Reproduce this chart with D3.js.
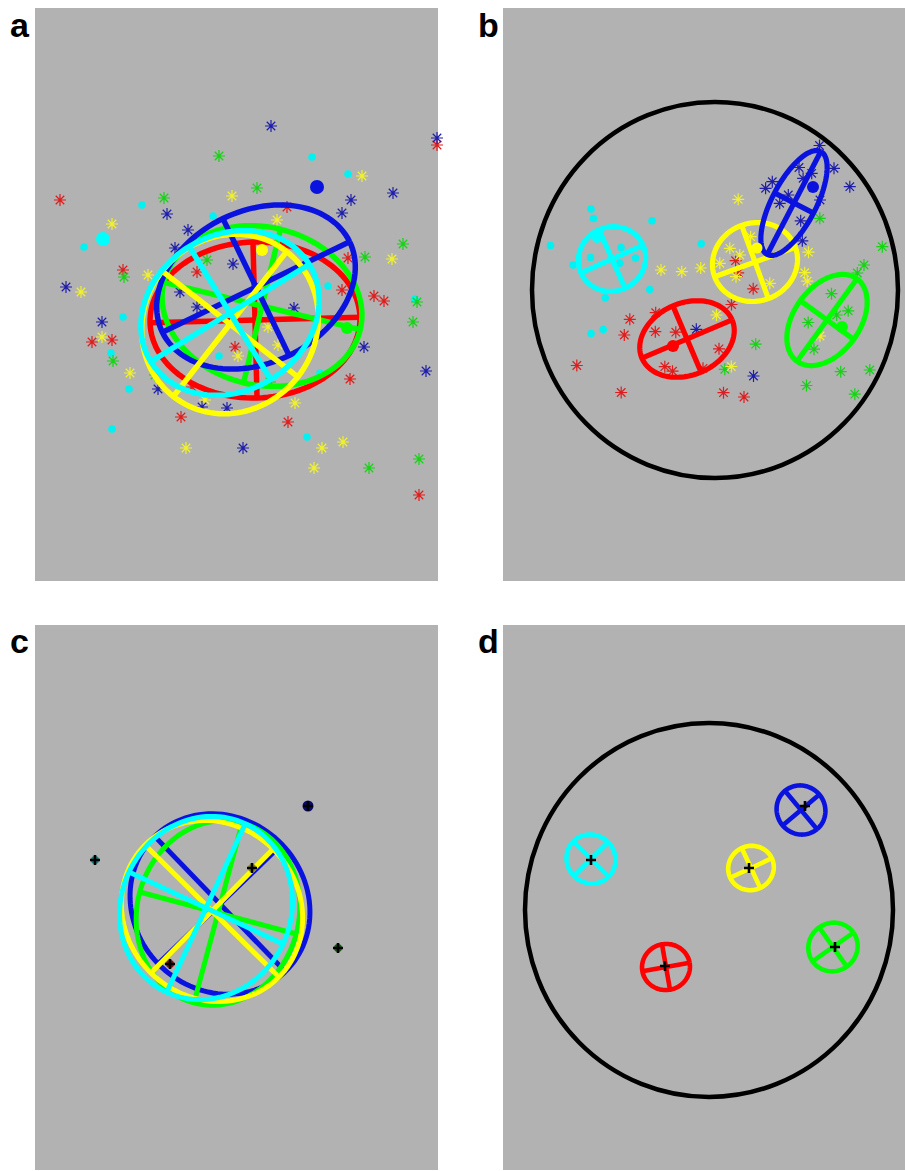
<!DOCTYPE html>
<html>
<head>
<meta charset="utf-8">
<script src="https://cdn.jsdelivr.net/npm/d3@7"></script>
<style>
  body { margin: 0; background: #ffffff; }
  svg { display: block; }
</style>
</head>
<body>
<svg id="fig" width="905" height="1171"></svg>
<script>
// ---------------- data (panel-local field units) ----------------
// Fitted clusters: centre, semi-axes a/b, orientation of a (degrees, clockwise)
const ellipsesA = [
  { k: "red",    cx: 220, cy: 312, a: 105, b: 78, angle: -1.5 },
  { k: "green",  cx: 227, cy: 298, a: 101, b: 79, angle: 13.5 },
  { k: "blue",   cx: 221, cy: 279, a: 104, b: 76, angle: -25.8 },
  { k: "yellow", cx: 195, cy: 316, a: 92,  b: 86, angle: -52 },
  { k: "cyan",   cx: 195, cy: 305, a: 93,  b: 78, angle: -31.5 }
];
const ellipsesB = [
  { k: "cyan",   cx: 109, cy: 251, a: 34, b: 32, angle: -24 },
  { k: "red",    cx: 184, cy: 331, a: 49, b: 36, angle: -23 },
  { k: "yellow", cx: 252, cy: 254, a: 43, b: 39, angle: -20 },
  { k: "green",  cx: 324, cy: 312, a: 51, b: 33, angle: -54 },
  { k: "blue",   cx: 291, cy: 195, a: 58, b: 22, angle: -62.5 }
];
const ellipsesC = [
  { k: "blue",   cx: 185, cy: 279, a: 94, b: 86, angle: 46 },
  { k: "green",  cx: 183, cy: 288, a: 93, b: 81, angle: 105 },
  { k: "yellow", cx: 177, cy: 286, a: 94, b: 87, angle: 44.6 },
  { k: "cyan",   cx: 171, cy: 283, a: 93, b: 85, angle: 115 }
];
const ellipsesD = [
  { k: "cyan",   cx: 88,  cy: 234, a: 25, b: 24, angle: 45 },
  { k: "yellow", cx: 248, cy: 243, a: 23, b: 22, angle: -25 },
  { k: "blue",   cx: 298, cy: 185, a: 25, b: 24, angle: 50 },
  { k: "green",  cx: 330, cy: 322, a: 25, b: 24, angle: -35 },
  { k: "red",    cx: 163, cy: 342, a: 24, b: 23, angle: -10 }
];

// Cluster means shown as filled dots
const meansA = [
  { k: "blue",   x: 282, y: 179, r: 7 },
  { k: "cyan",   x: 68,  y: 231, r: 7 },
  { k: "yellow", x: 227, y: 242, r: 6 },
  { k: "green",  x: 312, y: 320, r: 6 }
];
const meansB = [
  { k: "cyan",   x: 94,  y: 230, r: 5 },
  { k: "red",    x: 170, y: 338, r: 6 },
  { k: "yellow", x: 254, y: 240, r: 5.5 },
  { k: "blue",   x: 310, y: 179, r: 6 },
  { k: "green",  x: 339, y: 319, r: 6 }
];

// Source positions marked with crosses
const sourcesC = [
  { k: "cyan",   x: 60,  y: 235 },
  { k: "yellow", x: 217, y: 243 },
  { k: "blue",   x: 273, y: 181 },
  { k: "green",  x: 303, y: 323 },
  { k: "red",    x: 135, y: 339 }
];
const sourcesD = [
  { k: "cyan",   x: 88,  y: 235 },
  { k: "yellow", x: 246, y: 243 },
  { k: "blue",   x: 302, y: 181 },
  { k: "green",  x: 332, y: 322 },
  { k: "red",    x: 162, y: 341 }
];

// Boundary circle of the field (b, d)
const boundaryB = { cx: 212, cy: 282, rx: 183, ry: 188 };
const boundaryD = { cx: 206, cy: 285, rx: 184, ry: 187 };

// Individual samples, panel a
const redA = [[25,192],[88,262],[252,199],[313,250],[307,282],[339,288],[349,293],[402,137],[162,264],[57,334],[77,332],[146,409],[200,339],[253,414],[315,371],[384,487],[157,379]];
const blueA = [[236,118],[402,130],[358,185],[316,192],[307,205],[132,206],[153,222],[140,240],[31,279],[198,256],[145,284],[162,299],[259,300],[67,314],[123,381],[329,339],[391,363],[208,440],[192,400],[167,399]];
const greenA = [[184,148],[129,190],[222,180],[172,252],[89,269],[368,236],[330,249],[382,294],[378,314],[78,353],[120,367],[235,374],[334,460],[384,451]];
const yellowA = [[197,188],[327,168],[77,216],[242,212],[113,267],[46,284],[357,251],[67,329],[95,365],[233,319],[243,337],[203,348],[170,392],[260,395],[151,440],[287,440],[308,434],[279,460]];
const cyanA = [[277,149],[313,166],[107,197],[178,208],[49,239],[293,278],[88,309],[76,345],[184,348],[94,381],[77,421],[272,429],[285,365],[380,291]];

// Individual samples, panel b
const redB = [[152.7,304.7],[126.8,311.3],[121.3,327],[73.8,357.5],[118.2,384.5],[152.3,323.7],[172.8,324.2],[161.8,358.7],[169.5,363.2],[220.5,384.7],[241,389],[228.5,296.5],[216,340.8],[232.6,252.7],[235.2,264.8],[250.2,280.8],[200,360.3]];
const blueB = [[316.5,137.5],[331,160.3],[346.8,178.7],[262.6,180.3],[269.3,173.7],[296,159.5],[300.1,170.3],[308.7,165.3],[317,192],[285.3,187],[297.7,212.8],[299.3,232.8],[193.3,321.3],[250.5,368],[276.7,195.3]];
const greenB = [[316.8,210.3],[379.3,238.7],[361,257],[354.3,265],[328.5,285.7],[345.2,302.8],[305.2,314.5],[311,341.2],[252.7,336.2],[221.8,361.3],[337.7,363.7],[366.8,362],[303.5,377.5],[351.8,386.2],[333.7,307]];
const yellowB = [[158,262],[178.8,263.7],[197.7,260],[235.2,191.3],[301.7,264.7],[304.2,273.2],[305.5,244.2],[228.3,358.5],[213.5,307],[226.8,240.3],[236.8,247],[216.8,255.3],[266.8,275.3],[247.6,228.7],[233,268.7],[317,328]];
const cyanB = [[88,201],[90.5,210.5],[149,212.7],[47.5,237.5],[70,257],[146.8,281.5],[102.3,289.8],[88,325.5],[100.2,321.6],[198.2,235.8],[132.5,250],[118,239.5],[87.5,249.5],[116.7,255.3]];

const panelLabels = ["a", "b", "c", "d"];

// ---------------- styling ----------------
const lineColor = { red: "#ff0000", green: "#00ff00", blue: "#0a12e0", yellow: "#ffff00", cyan: "#00ffff" };
const starColor = { red: "#e01c1c", green: "#14d414", blue: "#1e1eaa", yellow: "#f2f22a", cyan: "#00f2f2" };
const dotColor  = { red: "#8a1010", green: "#106010", blue: "#0a0a70", yellow: "#8a8a10", cyan: "#108080" };
const panelFill = "#b2b2b2";

// ---------------- layout ----------------
const layout = [
  { x0: 35,  y0: 8,   w: 403, h: 573 },
  { x0: 503, y0: 8,   w: 402, h: 573 },
  { x0: 35,  y0: 625, w: 403, h: 545 },
  { x0: 503, y0: 625, w: 402, h: 545 }
];
const labelPos = [[10, 37], [478, 37], [10, 653], [478, 653]];

const svg = d3.select("#fig");

function makePanel(i) {
  const p = layout[i];
  const g = svg.append("g").attr("transform", `translate(${p.x0},${p.y0})`);
  g.append("rect").attr("width", p.w).attr("height", p.h).attr("fill", panelFill);
  const x = d3.scaleLinear().domain([0, p.w]).range([0, p.w]);
  const y = d3.scaleLinear().domain([0, p.h]).range([0, p.h]);
  return { g, x, y };
}

function drawBoundary(P, c) {
  P.g.append("ellipse")
    .attr("cx", P.x(c.cx)).attr("cy", P.y(c.cy))
    .attr("rx", P.x(c.rx) - P.x(0)).attr("ry", P.y(c.ry) - P.y(0))
    .attr("fill", "none").attr("stroke", "#000").attr("stroke-width", 4.5);
}

const starPath = (r) => {
  const d = r * Math.SQRT1_2;
  return `M${-r},0L${r},0M0,${-r}L0,${r}M${-d},${-d}L${d},${d}M${-d},${d}L${d},${-d}`;
};

function drawStars(P, pts, k) {
  if (k === "cyan") {
    P.g.append("g").selectAll("circle").data(pts).join("circle")
      .attr("cx", d => P.x(d[0])).attr("cy", d => P.y(d[1]))
      .attr("r", 3.8).attr("fill", starColor.cyan);
  } else {
    P.g.append("g").selectAll("path").data(pts).join("path")
      .attr("transform", d => `translate(${P.x(d[0])},${P.y(d[1])})`)
      .attr("d", starPath(6))
      .attr("fill", "none").attr("stroke", starColor[k]).attr("stroke-width", 1.2);
  }
}

function drawEllipses(P, list, sw) {
  const line = d3.line().x(d => P.x(d[0])).y(d => P.y(d[1]));
  const eg = P.g.append("g");
  list.forEach(e => {
    const t = e.angle * Math.PI / 180;
    const ux = Math.cos(t), uy = Math.sin(t);   // major direction
    const vx = -uy, vy = ux;                    // minor direction
    const pts = d3.range(0, 361, 3).map(deg => {
      const s = deg * Math.PI / 180;
      const ca = e.a * Math.cos(s), cb = e.b * Math.sin(s);
      return [e.cx + ca * ux + cb * vx, e.cy + ca * uy + cb * vy];
    });
    const col = lineColor[e.k];
    eg.append("path").attr("d", line(pts)).attr("fill", "none")
      .attr("stroke", col).attr("stroke-width", sw);
    eg.append("path").attr("d", line([[e.cx - e.a * ux, e.cy - e.a * uy], [e.cx + e.a * ux, e.cy + e.a * uy]]))
      .attr("stroke", col).attr("stroke-width", sw);
    eg.append("path").attr("d", line([[e.cx - e.b * vx, e.cy - e.b * vy], [e.cx + e.b * vx, e.cy + e.b * vy]]))
      .attr("stroke", col).attr("stroke-width", sw);
  });
}

function drawMeans(P, list) {
  P.g.append("g").selectAll("circle").data(list).join("circle")
    .attr("cx", d => P.x(d.x)).attr("cy", d => P.y(d.y))
    .attr("r", d => d.r).attr("fill", d => lineColor[d.k]);
}

function drawSources(P, list, halo) {
  const sg = P.g.append("g");
  list.forEach(s => {
    const cx = P.x(s.x), cy = P.y(s.y);
    if (halo) {
      sg.append("circle").attr("cx", cx).attr("cy", cy)
        .attr("r", s.k === "blue" ? 5.5 : 4).attr("fill", dotColor[s.k]);
    }
    sg.append("path").attr("d", `M${cx - 5},${cy}L${cx + 5},${cy}M${cx},${cy - 5}L${cx},${cy + 5}`)
      .attr("stroke", "#000").attr("stroke-width", 2.6);
  });
}

// ---- panel a: raw samples with fitted ellipses ----
const A = makePanel(0);
drawStars(A, cyanA, "cyan");
drawStars(A, redA, "red");
drawStars(A, greenA, "green");
drawStars(A, yellowA, "yellow");
drawStars(A, blueA, "blue");
drawEllipses(A, ellipsesA, 5.5);
drawMeans(A, meansA);

// ---- panel b: samples in the bounded field ----
const B = makePanel(1);
drawBoundary(B, boundaryB);
drawStars(B, cyanB, "cyan");
drawStars(B, redB, "red");
drawStars(B, greenB, "green");
drawStars(B, yellowB, "yellow");
drawStars(B, blueB, "blue");
drawEllipses(B, ellipsesB, 5.2);
drawMeans(B, meansB);

// ---- panel c: ellipses with source crosses ----
const C = makePanel(2);
drawEllipses(C, ellipsesC, 5);
drawSources(C, sourcesC, true);

// ---- panel d: recovered ellipses in the bounded field ----
const D = makePanel(3);
drawBoundary(D, boundaryD);
drawEllipses(D, ellipsesD, 4.6);
drawSources(D, sourcesD, false);

// ---- panel letters ----
svg.selectAll("text.lbl").data(panelLabels).join("text")
  .attr("class", "lbl")
  .attr("x", (d, i) => labelPos[i][0]).attr("y", (d, i) => labelPos[i][1])
  .attr("font-family", "'Liberation Sans Narrow', 'Liberation Sans', Arial, sans-serif")
  .attr("font-weight", "bold").attr("font-size", 34)
  .text(d => d);
</script>
</body>
</html>
